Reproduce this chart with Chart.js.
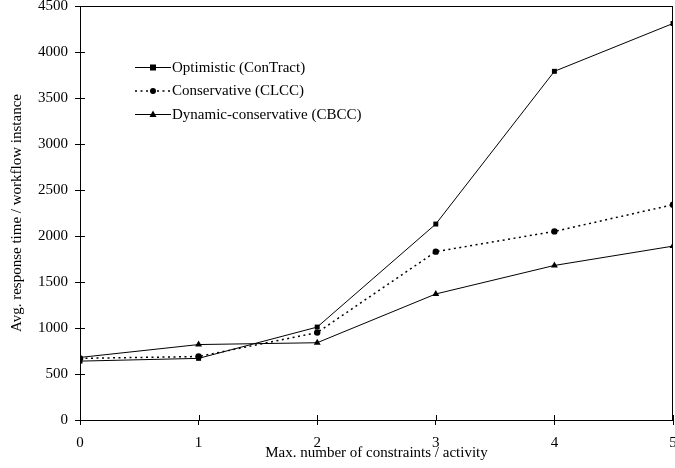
<!DOCTYPE html>
<html>
<head>
<meta charset="utf-8">
<script src="https://cdn.jsdelivr.net/npm/chart.js@4/dist/chart.umd.min.js"></script>
<style>
  html, body { margin: 0; padding: 0; background: #fff; overflow: hidden; }
  #wrap { width: 675px; height: 468px; }
</style>
</head>
<body>
<div id="wrap"><canvas id="chart" width="675" height="468"></canvas></div>
<script>
const xValues = [0, 1, 2, 3, 4, 5];
const yTicks = [0, 500, 1000, 1500, 2000, 2500, 3000, 3500, 4000, 4500];
const optimistic = [640, 670, 1010, 2130, 3790, 4310];
const conservative = [670, 690, 950, 1830, 2050, 2340];
const dynamicCons = [680, 820, 840, 1370, 1680, 1890];
const seriesNames = ["Optimistic (ConTract)", "Conservative (CLCC)", "Dynamic-conservative (CBCC)"];

const FONT = "'Liberation Serif', 'DejaVu Serif', serif";

function pts(vals) { return vals.map((v, i) => ({ x: xValues[i], y: v })); }

// box around plot, inner halves of the tick marks, legend with line + marker
const decor = {
    id: "decor",
    afterDraw(chart) {
        const ctx = chart.ctx;
        const a = chart.chartArea;
        ctx.save();
        ctx.strokeStyle = "#000";
        ctx.lineWidth = 1;
        ctx.strokeRect(a.left + 0.5, a.top + 0.5, a.right - a.left - 1, a.bottom - a.top);
        const xs = chart.scales.x, ys = chart.scales.y;
        xValues.forEach(v => {
            const px = Math.round(xs.getPixelForValue(v)) + 0.5;
            ctx.beginPath();
            ctx.moveTo(px, a.bottom - 5);
            ctx.lineTo(px, a.bottom);
            ctx.stroke();
        });
        yTicks.forEach(v => {
            const py = Math.round(ys.getPixelForValue(v)) + 0.5;
            ctx.beginPath();
            ctx.moveTo(a.left, py);
            ctx.lineTo(a.left + 5, py);
            ctx.stroke();
        });
        // legend
        const lx = 135, ly = 67, gap = 23.5;
        chart.data.datasets.forEach((ds, i) => {
            const y = ly + i * gap;
            ctx.strokeStyle = "#000";
            ctx.setLineDash(ds.borderDash || []);
            ctx.lineWidth = ds.borderWidth;
            ctx.beginPath();
            ctx.moveTo(lx, y + 0.5);
            ctx.lineTo(lx + 36, y + 0.5);
            ctx.stroke();
            ctx.setLineDash([]);
            ctx.fillStyle = "#000";
            const cx = lx + 18, r = 3;
            if (ds.pointStyle === "rect") ctx.fillRect(cx - r, y - r + 0.5, 2 * r, 2 * r);
            else if (ds.pointStyle === "circle") { ctx.beginPath(); ctx.arc(cx, y + 0.5, r, 0, Math.PI * 2); ctx.fill(); }
            else { ctx.beginPath(); ctx.moveTo(cx, y - 3.5); ctx.lineTo(cx + 3.5, y + 3); ctx.lineTo(cx - 3.5, y + 3); ctx.closePath(); ctx.fill(); }
            ctx.font = "15px " + FONT;
            ctx.textBaseline = "middle";
            ctx.fillText(ds.label, lx + 37, y + 1);
        });
        ctx.restore();
    }
};

new Chart(document.getElementById("chart"), {
    type: "line",
    data: {
        datasets: [
            { label: seriesNames[0], data: pts(optimistic), borderColor: "#000", backgroundColor: "#000",
              borderWidth: 1, pointStyle: "rect", pointRadius: 3.5, pointBorderWidth: 0 },
            { label: seriesNames[1], data: pts(conservative), borderColor: "#000", backgroundColor: "#000",
              borderWidth: 1.5, borderDash: [2, 3.5], pointStyle: "circle", pointRadius: 3.2, pointBorderWidth: 0 },
            { label: seriesNames[2], data: pts(dynamicCons), borderColor: "#000", backgroundColor: "#000",
              borderWidth: 1, pointStyle: "triangle", pointRadius: 4, pointBorderWidth: 0 }
        ]
    },
    options: {
        responsive: false,
        animation: false,
        layout: { autoPadding: false, padding: { top: 6, right: 2, left: 8, bottom: 6 } },
        plugins: { legend: { display: false }, tooltip: { enabled: false } },
        scales: {
            x: {
                type: "linear", min: 0, max: 5,
                afterFit(s) { s.paddingRight = 0; s.paddingLeft = 0; },
                ticks: { stepSize: 1, color: "#000", font: { family: FONT, size: 15 }, padding: 9 },
                grid: { drawOnChartArea: false, color: "#000", tickLength: 5, tickColor: "#000" },
                border: { color: "#000", width: 1 },
                title: { display: true, text: "Max. number of constraints / activity", color: "#000",
                         font: { family: FONT, size: 15 }, padding: { top: -17, bottom: 0 } }
            },
            y: {
                min: 0, max: 4500,
                afterFit(s) { s.paddingTop = 0; s.paddingBottom = 0; },
                ticks: { stepSize: 500, color: "#000", font: { family: FONT, size: 15 }, padding: 7,
                         callback: v => String(v) },
                grid: { drawOnChartArea: false, color: "#000", tickLength: 5, tickColor: "#000" },
                border: { color: "#000", width: 1 },
                title: { display: true, text: "Avg. response time / workflow instance", color: "#000",
                         font: { family: FONT, size: 15 }, padding: { top: 0, bottom: 5 } }
            }
        }
    },
    plugins: [decor]
});
</script>
</body>
</html>
